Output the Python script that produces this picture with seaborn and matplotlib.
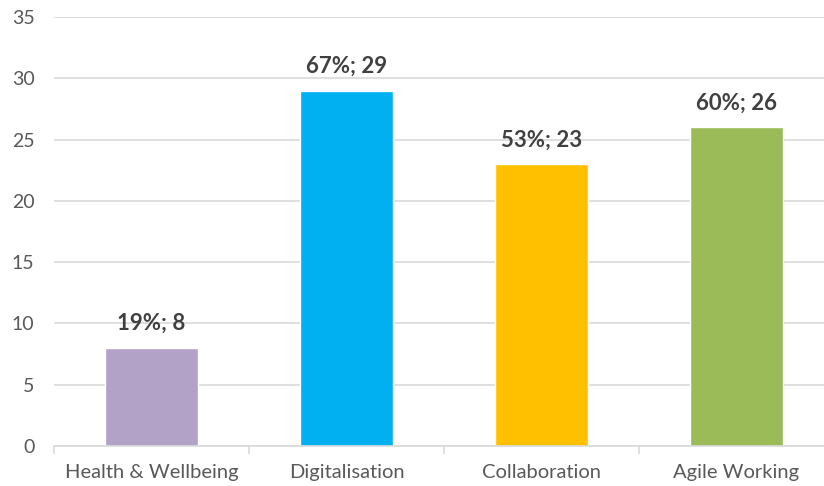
import matplotlib
matplotlib.use("Agg")
import matplotlib.pyplot as plt
import seaborn as sns
import pandas as pd
import numpy as np

categories = ["Health & Wellbeing", "Digitalisation", "Collaboration", "Agile Working"]
values = [8, 29, 23, 26]
percents = ["19%", "67%", "53%", "60%"]
colors = ["#B3A2C7", "#00B0F0", "#FFC000", "#9BBB59"]
yticks = [0, 5, 10, 15, 20, 25, 30, 35]

sns.set_theme(style="white")
plt.rcParams['font.family'] = ['Lato', 'DejaVu Sans']

df = pd.DataFrame({"cat": categories, "val": values})

fig = plt.figure(figsize=(8.24, 4.86), dpi=100)
ax = fig.add_axes([0.0655, 0.0823, 0.9466, 0.8827])

sns.barplot(data=df, x="cat", y="val", hue="cat", palette=colors, width=0.48,
            legend=False, ax=ax, saturation=1)

ax.set_ylim(0, 35)
ax.set_xlim(-0.5, 3.5)
ax.set_yticks(yticks)
ax.yaxis.grid(True, color="#d9d9d9", linewidth=1.2)
ax.set_axisbelow(True)
ax.set_xlabel("")
ax.set_ylabel("")
for s in ["top", "right", "left"]:
    ax.spines[s].set_visible(False)
ax.spines["bottom"].set_color("#d9d9d9")
ax.spines["bottom"].set_linewidth(1.2)

ax.tick_params(axis="y", length=0, labelsize=14, labelcolor="#595959", pad=14)
ax.tick_params(axis="x", which="major", length=0, labelsize=14.5, labelcolor="#595959", pad=13)
ax.set_xticks(np.arange(-0.5, 4.0, 1.0), minor=True)
ax.tick_params(axis="x", which="minor", bottom=True, length=6, color="#d9d9d9", width=1.2)

for i, (v, p) in enumerate(zip(values, percents)):
    ax.annotate(f"{p}; {v}", (i, v), xytext=(0, 10), textcoords="offset points",
                ha="center", va="bottom", fontsize=16, fontweight="bold", color="#404040")

fig.savefig("out.png", dpi=100)
